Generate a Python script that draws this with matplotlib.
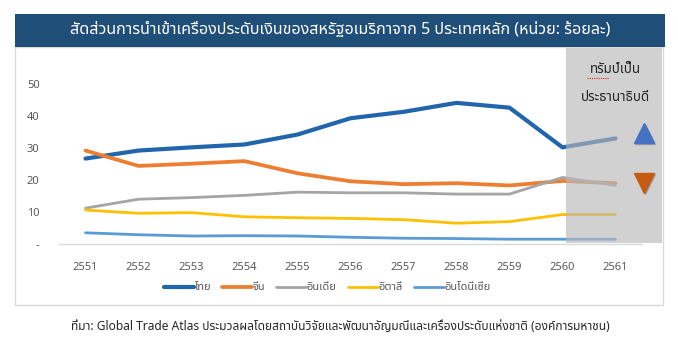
import matplotlib
matplotlib.use("Agg")
import matplotlib.pyplot as plt
from matplotlib import font_manager
from matplotlib.ft2font import FT2Font
from matplotlib.patches import Rectangle
import numpy as np

# ข้อมูล (ร้อยละ)
years = ["2551", "2552", "2553", "2554", "2555", "2556", "2557", "2558", "2559", "2560", "2561"]
thailand = [26.7, 29.2, 30.2, 31.1, 34.2, 39.3, 41.3, 44.1, 42.6, 30.2, 33.0]
china = [29.2, 24.4, 25.1, 25.9, 22.1, 19.6, 18.7, 19.0, 18.3, 19.7, 19.0]
india = [11.2, 14.0, 14.5, 15.2, 16.2, 16.0, 16.0, 15.6, 15.6, 20.8, 18.3]
italy = [10.6, 9.6, 9.8, 8.5, 8.2, 8.0, 7.6, 6.5, 7.0, 9.2, 9.2]
indonesia = [3.5, 2.9, 2.5, 2.6, 2.5, 2.1, 1.8, 1.7, 1.5, 1.5, 1.5]
series_names = ["ไทย", "จีน", "อินเดีย", "อิตาลี", "อินโดนีเซีย"]
y_ticks = [0, 10, 20, 30, 40, 50]
y_tick_labels = ["-", "10", "20", "30", "40", "50"]

title = "สัดส่วนการนำเข้าเครื่องประดับเงินของสหรัฐอเมริกาจาก 5 ประเทศหลัก (หน่วย: ร้อยละ)"
note_lines = ["ทรัมป์เป็น", "ประธานาธิบดี"]
source = "ที่มา: Global Trade Atlas ประมวลผลโดยสถาบันวิจัยและพัฒนาอัญมณีและเครื่องประดับแห่งชาติ (องค์การมหาชน)"


# หาฟอนต์ที่มีอักษรไทย
def find_thai_font():
    prefer = ["Noto Sans Thai", "Noto Sans Thai UI", "Loma", "Garuda", "Tlwg Typo", "Sarabun"]
    found = []
    for path in sorted(font_manager.findSystemFonts()):
        try:
            if 0x0E01 in FT2Font(path).get_charmap():
                found.append(font_manager.FontProperties(fname=path).get_name())
        except Exception:
            pass
    for p in prefer:
        if p in found:
            return p
    return found[0] if found else "DejaVu Sans"


thai_font = find_thai_font()
plt.rcParams["font.family"] = [thai_font, "DejaVu Sans"]

W, H = 678, 344
fig = plt.figure(figsize=(W / 100, H / 100), dpi=100)


def fx(px):
    return px / W


def fy(py):
    return 1 - py / H


# กรอบแผนภูมิ และแถบหัวเรื่อง (วาดไว้ใต้แกน)
fig.patches.append(Rectangle((fx(15), fy(305)), fx(648), 258 / H, transform=fig.transFigure,
                             facecolor="white", edgecolor="#D9D9D9", lw=1, zorder=-2))
fig.patches.append(Rectangle((fx(15), fy(47)), fx(650), 33 / H, transform=fig.transFigure,
                             facecolor="#1F4E79", edgecolor="none", zorder=-1))
fig.text(fx(340), fy(30), title, color="white", fontsize=11.6, ha="center", va="center")

ax = fig.add_axes([fx(59), fy(244), fx(583), 196 / H])
ax.set_facecolor("none")
x = np.arange(len(years))

colors = ["#2166AC", "#ED7D31", "#A5A5A5", "#FFC000", "#5B9BD5"]
widths = [3.0, 2.7, 2.0, 2.0, 2.0]
data = [thailand, china, india, italy, indonesia]
for vals, name, c, lw in zip(data, series_names, colors, widths):
    ax.plot(x, vals, color=c, lw=lw, label=name, solid_capstyle="round", zorder=3)

ax.set_xlim(-0.5, len(years) - 0.5)
ax.set_ylim(0, 61.25)
ax.set_xticks(x)
ax.set_xticklabels(years)
ax.set_yticks(y_ticks)
ax.set_yticklabels(y_tick_labels)
ax.tick_params(axis="both", length=0, labelsize=8, labelcolor="#595959")
ax.tick_params(axis="x", pad=13)
ax.tick_params(axis="y", pad=14)
for s in ["top", "right", "left"]:
    ax.spines[s].set_visible(False)
ax.spines["bottom"].set_color("#D9D9D9")
ax.spines["bottom"].set_linewidth(1)

# ช่วงที่ทรัมป์เป็นประธานาธิบดี
x0 = 9.07
ax.add_patch(Rectangle((x0, 0.3), 10.88 - x0, 61.25 - 0.3, facecolor="#B8B8B8", alpha=0.64,
                       edgecolor="none", zorder=4, clip_on=False))
ax.text(10.0, 54.6, note_lines[0], ha="center", va="center", fontsize=9.6, color="#262626", zorder=6)
ax.text(10.0, 45.8, note_lines[1], ha="center", va="center", fontsize=9.6, color="#262626", zorder=6)
ax.plot([9.47, 9.88], [51.8, 51.8], color="#E02020", lw=0.8, ls=(0, (1, 1)), zorder=6)

# ลูกศรขึ้น/ลง
ax.plot(10.56, thailand[-1] + 1.3, marker="^", ms=15, color="#808080", alpha=0.5,
        clip_on=False, zorder=5)
ax.plot(10.54, thailand[-1] + 1.6, marker="^", ms=15, color="#4472C4", clip_on=False, zorder=6)
ax.plot(10.56, china[-1] - 0.3, marker="v", ms=15, color="#808080", alpha=0.5,
        clip_on=False, zorder=5)
ax.plot(10.54, china[-1], marker="v", ms=15, color="#C55A11", clip_on=False, zorder=6)

fig.legend(loc="center", bbox_to_anchor=(fx(327), fy(288)), ncol=5, frameon=False,
           fontsize=8, handlelength=2.7, handletextpad=0.05, columnspacing=1.0,
           labelcolor="#595959")

fig.text(fx(340), fy(326), source, ha="center", va="center", fontsize=8.6, color="#262626")

fig.savefig("out.png", dpi=100)
